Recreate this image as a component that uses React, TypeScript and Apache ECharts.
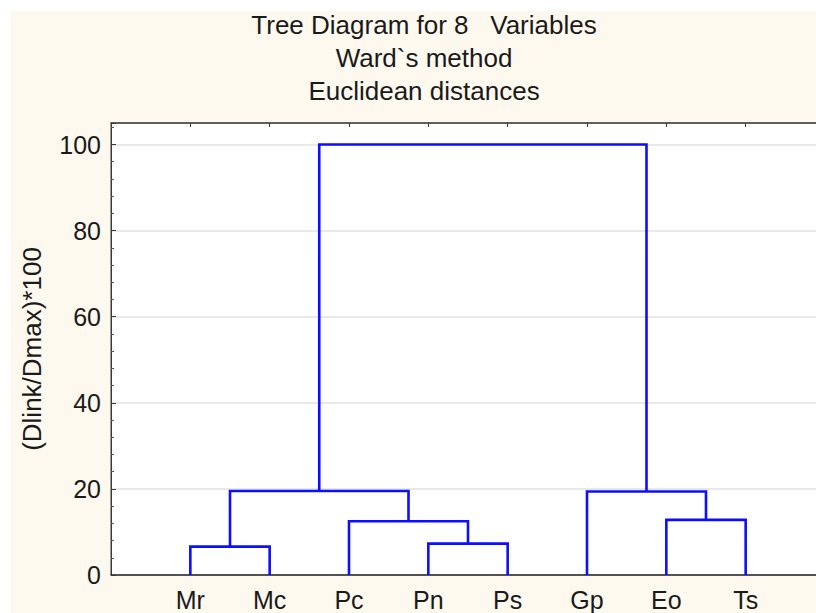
import React, { useEffect, useRef } from "react";
import * as echarts from "echarts";

const titleLines = ["Tree Diagram for 8   Variables", "Ward`s method", "Euclidean distances"];
const leaves = ["Mr", "Mc", "Pc", "Pn", "Ps", "Gp", "Eo", "Ts"];
// linkage: cluster ids 0..7 are leaves, new clusters numbered 8, 9, ...
const mergeLeft = [0, 3, 6, 2, 8, 5, 12];
const mergeRight = [1, 4, 7, 9, 11, 10, 13];
const mergeHeight = [6.6, 7.3, 12.8, 12.5, 19.5, 19.4, 100];
const yTicks = [0, 20, 40, 60, 80, 100];

const FONT = "'Liberation Sans', Arial, sans-serif";

function buildLinks() {
  const xs: number[] = leaves.map((_, i) => i + 1);
  const hs: number[] = leaves.map(() => 0);
  const links: { coords: number[][] }[] = [];
  mergeLeft.forEach((a, k) => {
    const b = mergeRight[k];
    const h = mergeHeight[k];
    links.push({
      coords: [
        [xs[a], hs[a]],
        [xs[a], h],
        [xs[b], h],
        [xs[b], hs[b]],
      ],
    });
    xs.push((xs[a] + xs[b]) / 2);
    hs.push(h);
  });
  return links;
}

export default function App() {
  const ref = useRef<HTMLDivElement>(null);
  useEffect(() => {
    if (!ref.current) return;
    const chart = echarts.init(ref.current, undefined, { renderer: "svg" });
    const links = buildLinks();
    chart.setOption({
      animation: false,
      backgroundColor: "#FEF9EE",
      graphic: titleLines.map((t, i) => ({
        type: "text",
        x: 413,
        y: 14 + i * 33,
        style: {
          text: t,
          fontSize: 26,
          fontFamily: FONT,
          fill: "#1a1a1a",
          align: "center",
          verticalAlign: "middle",
        },
      })),
      grid: {
        left: 96,
        top: 112,
        right: 16,
        bottom: 38,
        show: true,
        backgroundColor: "#ffffff",
        borderColor: "#3a3a3a",
        borderWidth: 1,
      },
      xAxis: [
        {
          type: "value",
          min: 0,
          max: 9,
          interval: 1,
          position: "bottom",
          axisLine: { show: true, lineStyle: { color: "#2a2a2a", width: 1.5 } },
          axisTick: { show: false },
          splitLine: { show: false },
          axisLabel: {
            formatter: (v: number) => leaves[Math.round(v) - 1] ?? "",
            fontSize: 25,
            fontFamily: FONT,
            color: "#1a1a1a",
            margin: 12,
          },
        },
        {
          type: "value",
          min: 0,
          max: 9,
          interval: 1,
          position: "top",
          axisLine: { show: true, lineStyle: { color: "#3a3a3a", width: 1.5 } },
          axisTick: { show: true, inside: true, length: 4, lineStyle: { color: "#3a3a3a" } },
          splitLine: { show: false },
          axisLabel: { show: false },
        },
      ],
      yAxis: {
        type: "value",
        min: 0,
        max: 105,
        interval: 20,
        name: "(Dlink/Dmax)*100",
        nameLocation: "middle",
        nameGap: 66,
        nameTextStyle: { fontSize: 26, fontFamily: FONT, color: "#1a1a1a" },
        axisLine: { show: true, lineStyle: { color: "#3a3a3a" } },
        axisTick: { show: true, inside: true, length: 5, lineStyle: { color: "#3a3a3a" } },
        minorTick: { show: true, splitNumber: 5, length: 3, lineStyle: { color: "#555" } },
        splitLine: { show: true, lineStyle: { color: "#e2e2e2", width: 1.5 } },
        axisLabel: {
          fontSize: 25,
          fontFamily: FONT,
          color: "#1a1a1a",
          margin: 10,
          showMaxLabel: false,
          formatter: (v: number) => (yTicks.includes(v) ? String(v) : ""),
        },
      },
      series: [
        {
          type: "lines",
          coordinateSystem: "cartesian2d",
          polyline: true,
          silent: true,
          lineStyle: { color: "#0d0dff", width: 2.6, opacity: 1 },
          data: links,
          z: 5,
        },
      ],
    });
    return () => chart.dispose();
  }, []);
  return (
    <div style={{ position: "fixed", left: 0, top: 0, width: 816, height: 613, background: "#ffffff", overflow: "hidden" }}>
      <div ref={ref} style={{ position: "absolute", left: 11, top: 11, width: 830, height: 602 }} />
    </div>
  );
}
